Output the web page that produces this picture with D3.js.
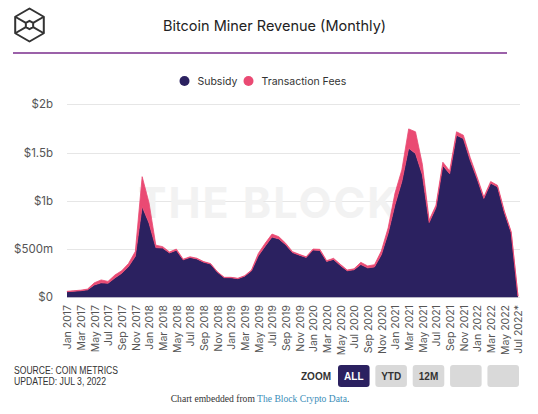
<!DOCTYPE html>
<html>
<head>
<meta charset="utf-8">
<script src="https://cdn.jsdelivr.net/npm/d3@7"></script>
<style>
  html, body { margin: 0; padding: 0; background: #fff; }
  svg { display: block; }
</style>
</head>
<body>
<svg id="chart" width="538" height="414"></svg>
<script>
// ---------- DATA ($ millions) ----------
const months = [
  "Jan 2017","Feb 2017","Mar 2017","Apr 2017","May 2017","Jun 2017","Jul 2017","Aug 2017","Sep 2017","Oct 2017","Nov 2017","Dec 2017",
  "Jan 2018","Feb 2018","Mar 2018","Apr 2018","May 2018","Jun 2018","Jul 2018","Aug 2018","Sep 2018","Oct 2018","Nov 2018","Dec 2018",
  "Jan 2019","Feb 2019","Mar 2019","Apr 2019","May 2019","Jun 2019","Jul 2019","Aug 2019","Sep 2019","Oct 2019","Nov 2019","Dec 2019",
  "Jan 2020","Feb 2020","Mar 2020","Apr 2020","May 2020","Jun 2020","Jul 2020","Aug 2020","Sep 2020","Oct 2020","Nov 2020","Dec 2020",
  "Jan 2021","Feb 2021","Mar 2021","Apr 2021","May 2021","Jun 2021","Jul 2021","Aug 2021","Sep 2021","Oct 2021","Nov 2021","Dec 2021",
  "Jan 2022","Feb 2022","Mar 2022","Apr 2022","May 2022","Jun 2022","Jul 2022*"
];
const subsidy = [
  58, 63, 68, 77, 128, 150, 145, 200, 248, 318, 425, 940,
  770, 515, 510, 460, 488, 388, 413, 398, 364, 345, 261, 204,
  203, 193, 219, 274, 430, 530, 625, 605, 545, 463, 437, 413,
  490, 485, 372, 393, 330, 275, 285, 340, 305, 315, 440, 665,
  960, 1200, 1545, 1490, 1270, 775, 930, 1365, 1280, 1680, 1645, 1420,
  1230, 1025, 1183, 1145, 880, 670, 11
];
const fees = [
  4, 5, 6, 8, 22, 30, 20, 30, 27, 32, 50, 310,
  210, 25, 15, 10, 12, 7, 7, 7, 6, 5, 4, 3,
  4, 4, 5, 9, 25, 30, 30, 23, 15, 10, 8, 7,
  10, 12, 8, 11, 12, 8, 10, 22, 20, 23, 40, 55,
  120, 120, 200, 225, 110, 25, 25, 35, 30, 35, 35, 30,
  20, 15, 17, 15, 15, 10, 1
];
const seriesNames = ["Subsidy", "Transaction Fees"];
const seriesColors = ["#2b2160", "#ea4a73"];
const yTicks = [0, 500, 1000, 1500, 2000];
const yTickLabels = ["$0", "$500m", "$1b", "$1.5b", "$2b"];
const zoomButtons = ["ALL", "YTD", "12M", "", ""];

// ---------- SETUP ----------
const svg = d3.select("#chart");
const plotLeft = 67, plotRight = 518, plotTop = 104.3, plotBottom = 297.3;

const x = d3.scalePoint().domain(months).range([plotLeft, plotRight]);
const y = d3.scaleLinear().domain([0, 2000]).range([plotBottom, plotTop]);

// Logo
const logo = svg.append("g").attr("fill", "none").attr("stroke", "#333").attr("stroke-width", 2).attr("stroke-linejoin", "round");
const cx = 29.5, cy = 25, R = 16.5;
const hex = d3.range(6).map(k => {
  const a = (-90 + 60 * k) * Math.PI / 180;
  return [cx + R * Math.cos(a), cy + R * Math.sin(a)];
});
logo.append("path").attr("d", "M" + hex.map(p => p.join(",")).join("L") + "Z");
const r2 = 4.2;
const inner = d3.range(6).map(k => {
  const a = (-90 + 60 * k) * Math.PI / 180;
  return [cx + r2 * Math.cos(a), cy + r2 * Math.sin(a)];
});
logo.append("path").attr("d", "M" + inner.map(p => p.join(",")).join("L") + "Z");
[[5, 5], [1, 1], [4, 4], [2, 2]].forEach(([o, i]) => {
  logo.append("line").attr("x1", hex[o][0]).attr("y1", hex[o][1]).attr("x2", inner[i][0]).attr("y2", inner[i][1]);
});

// Title
svg.append("text").attr("x", 274.5).attr("y", 31).attr("text-anchor", "middle")
  .attr("font-family", "Inter, 'Open Sans', sans-serif").attr("font-size", 14.5).attr("fill", "#222")
  .text("Bitcoin Miner Revenue (Monthly)");
svg.append("line").attr("x1", 13).attr("x2", 507).attr("y1", 53).attr("y2", 53)
  .attr("stroke", "#7a2c8c").attr("stroke-width", 1.5);

// Legend
const legend = svg.append("g").attr("font-family", "Inter, 'Open Sans', sans-serif").attr("font-size", 10.5).attr("fill", "#333");
const legendX = [184.5, 248.5];
seriesNames.forEach((n, k) => {
  legend.append("circle").attr("cx", legendX[k]).attr("cy", 81).attr("r", 5).attr("fill", seriesColors[k]);
  legend.append("text").attr("x", legendX[k] + 13).attr("y", 84.5).text(n);
});

// Gridlines
svg.append("g").selectAll("line").data(yTicks).join("line")
  .attr("x1", plotLeft).attr("x2", 520)
  .attr("y1", d => Math.round(y(d)) + 0.5).attr("y2", d => Math.round(y(d)) + 0.5)
  .attr("stroke", "#e6e6e6").attr("stroke-width", 1);

// Watermark
svg.append("text").attr("x", 269).attr("y", 218).attr("text-anchor", "middle")
  .attr("font-family", "Inter, 'Open Sans', sans-serif").attr("font-weight", 700).attr("font-size", 43)
  .attr("letter-spacing", 2).attr("fill", "#f2f2f2").text("THE BLOCK");

// Stack
const data = months.map((m, i) => ({ month: m, s: subsidy[i], f: fees[i] }));
const stack = d3.stack().keys(["s", "f"]);
const layers = stack(data);
const area = d3.area()
  .x(d => x(d.data.month))
  .y0(d => y(d[0]))
  .y1(d => y(d[1]));
svg.append("g").selectAll("path").data(layers).join("path")
  .attr("d", area)
  .attr("fill", (d, k) => seriesColors[k])
  .attr("stroke", (d, k) => k === 1 ? seriesColors[1] : "none")
  .attr("stroke-width", 0.8)
  .attr("stroke-linejoin", "round");

// Y axis
const yAxis = d3.axisLeft(y).tickValues(yTicks).tickFormat((d, i) => yTickLabels[i]).tickSize(0).tickPadding(0);
const yg = svg.append("g").attr("transform", "translate(53,0)").call(yAxis);
yg.select(".domain").remove();
yg.selectAll("text").attr("font-family", "Inter, 'Open Sans', sans-serif").attr("font-size", 11.5).attr("fill", "#555");

// X axis
const tickMonths = months.filter((m, i) => i % 2 === 0);
const xAxis = d3.axisBottom(x).tickValues(tickMonths).tickSize(0).tickPadding(0);
const xg = svg.append("g").attr("transform", "translate(0,305)").call(xAxis);
xg.select(".domain").remove();
xg.selectAll("text")
  .attr("font-family", "Inter, 'Open Sans', sans-serif").attr("font-size", 10.5).attr("fill", "#555")
  .attr("text-anchor", "end").attr("y", 0).attr("x", 0)
  .attr("transform", "rotate(-90)").attr("dy", "0.35em");

// Source
const src = svg.append("g").attr("font-family", "Arial, 'Liberation Sans', sans-serif").attr("font-size", 10).attr("fill", "#333");
src.append("text").attr("x", 14).attr("y", 374).attr("textLength", 104).attr("lengthAdjust", "spacingAndGlyphs").text("SOURCE: COIN METRICS");
src.append("text").attr("x", 14).attr("y", 384.5).attr("textLength", 92).attr("lengthAdjust", "spacingAndGlyphs").text("UPDATED: JUL 3, 2022");

// Zoom buttons
svg.append("text").attr("x", 301).attr("y", 380).attr("font-family", "Arial, 'Liberation Sans', sans-serif")
  .attr("font-weight", 700).attr("font-size", 10).attr("fill", "#333").text("ZOOM");
const bx = d3.scaleBand().domain(d3.range(zoomButtons.length)).range([338, 519]).paddingInner(0.155).paddingOuter(0);
const btn = svg.append("g").selectAll("g").data(zoomButtons).join("g")
  .attr("transform", (d, i) => `translate(${bx(i)},365)`);
btn.append("rect").attr("width", bx.bandwidth()).attr("height", 22).attr("rx", 3)
  .attr("fill", (d, i) => i === 0 ? "#2b2160" : "#d9d9d9");
btn.append("text").attr("x", bx.bandwidth() / 2).attr("y", 15).attr("text-anchor", "middle")
  .attr("font-family", "Arial, 'Liberation Sans', sans-serif").attr("font-weight", 700).attr("font-size", 10)
  .attr("fill", (d, i) => i === 0 ? "#fff" : "#333").text(d => d);

// Footer
const foot = svg.append("text").attr("x", 260).attr("y", 402).attr("text-anchor", "middle")
  .attr("font-family", "'Liberation Serif', 'Times New Roman', serif").attr("font-size", 9.6).attr("fill", "#333");
foot.append("tspan").text("Chart embedded from ");
foot.append("tspan").attr("fill", "#3a8db8").text("The Block Crypto Data");
foot.append("tspan").text(".");
</script>
</body>
</html>
